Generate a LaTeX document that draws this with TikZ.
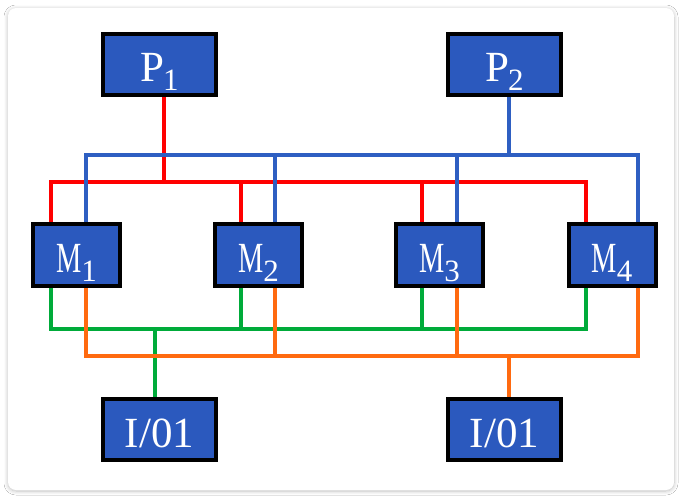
\documentclass[tikz,border=0pt]{standalone}
\usepackage{fontspec}
\setmainfont{Liberation Serif}
\newfontfamily\condfont[FakeStretch=0.66]{Liberation Serif}
\usetikzlibrary{backgrounds,shadows.blur}
\definecolor{boxblue}{HTML}{2B59BE}
\definecolor{lred}{HTML}{FF0000}
\definecolor{lblue}{HTML}{2E5FC2}
\definecolor{lgreen}{HTML}{00AB3A}
\definecolor{lorange}{HTML}{FF6A10}
\tikzset{
  unitbox/.style={draw=black, line width=4pt, fill=boxblue, text=white, inner sep=0pt,
    text height=35pt, text depth=0pt, font=\fontsize{43}{43}\selectfont},
  pbox/.style={unitbox, minimum width=113pt, minimum height=61pt},
  mbox/.style={unitbox, minimum width=87pt, minimum height=62pt},
  wire/.style={line width=4pt, line join=miter, line cap=butt},
}
\newcommand{\sub}[1]{\raisebox{-9pt}{\smash{\fontsize{31}{31}\selectfont #1}}}
\newcommand{\condM}{{\condfont M}}
\begin{document}
\begin{tikzpicture}[x=1pt,y=-1pt]
\useasboundingbox (0,0) rectangle (682,498);

\node[pbox] (P1) at (159.5,64) {P\kern-1pt\sub{1}};
\node[pbox] (P2) at (504.5,64) {P\kern-1pt\sub{2}};
\node[mbox] (M1) at (76.5,255) {\condM\sub{1}};
\node[mbox] (M2) at (258.5,255) {\condM\sub{2}};
\node[mbox] (M3) at (439.5,255) {\condM\sub{3}};
\node[mbox] (M4) at (612,255) {\condM\sub{4}};
\node[pbox] (IO1) at (159.5,429.5) {I/01};
\node[pbox] (IO2) at (504.5,429.5) {I/01};

\begin{scope}[on background layer]
\fill[white] (0,0) rectangle (682,498);
\fill[white, rounded corners=8pt, blur shadow={shadow blur steps=8, shadow xshift=0pt, shadow yshift=-1pt, shadow blur radius=4pt, shadow opacity=25}] (8,8) rectangle (674,490);
% bus levels
\coordinate (bb) at (0,155);
\coordinate (rb) at (0,181.5);
\coordinate (gb) at (0,329);
\coordinate (ob) at (0,355.5);
% taps on memory modules
\coordinate (r1) at ([xshift=-25.5pt]M1.north);
\coordinate (b1) at ([xshift=9.5pt]M1.north);
\coordinate (r2) at ([xshift=-17.5pt]M2.north);
\coordinate (b2) at ([xshift=16.5pt]M2.north);
\coordinate (r3) at ([xshift=-17.5pt]M3.north);
\coordinate (b3) at ([xshift=17.5pt]M3.north);
\coordinate (r4) at ([xshift=-26pt]M4.north);
\coordinate (b4) at ([xshift=26pt]M4.north);
\coordinate (g1) at ([xshift=-25.5pt]M1.south);
\coordinate (o1) at ([xshift=9.5pt]M1.south);
\coordinate (g2) at ([xshift=-17.5pt]M2.south);
\coordinate (o2) at ([xshift=16.5pt]M2.south);
\coordinate (g3) at ([xshift=-17.5pt]M3.south);
\coordinate (o3) at ([xshift=17.5pt]M3.south);
\coordinate (g4) at ([xshift=-26pt]M4.south);
\coordinate (o4) at ([xshift=26pt]M4.south);
\coordinate (p1) at ([xshift=4.5pt]P1.south);
\coordinate (p2) at ([xshift=4.5pt]P2.south);
\coordinate (i1) at ([xshift=-4.5pt]IO1.north);
\coordinate (i2) at ([xshift=4pt]IO2.north);
% red bus (P1)
\draw[wire, lred] (r1) -- (r1 |- rb) -- (r4 |- rb) -- (r4);
\draw[wire, lred] (r2) -- (r2 |- rb);
\draw[wire, lred] (r3) -- (r3 |- rb);
\draw[wire, lred] (p1) -- (p1 |- rb);
% blue bus (P2)
\draw[wire, lblue] (b1) -- (b1 |- bb) -- (b4 |- bb) -- (b4);
\draw[wire, lblue] (b2) -- (b2 |- bb);
\draw[wire, lblue] (b3) -- (b3 |- bb);
\draw[wire, lblue] (p2) -- (p2 |- bb);
% green bus (I/O 1)
\draw[wire, lgreen] (g1) -- (g1 |- gb) -- (g4 |- gb) -- (g4);
\draw[wire, lgreen] (g2) -- (g2 |- gb);
\draw[wire, lgreen] (g3) -- (g3 |- gb);
\draw[wire, lgreen] (i1) -- (i1 |- gb);
% orange bus (I/O 2)
\draw[wire, lorange] (o1) -- (o1 |- ob) -- (o4 |- ob) -- (o4);
\draw[wire, lorange] (o2) -- (o2 |- ob);
\draw[wire, lorange] (o3) -- (o3 |- ob);
\draw[wire, lorange] (i2) -- (i2 |- ob);
\end{scope}
\end{tikzpicture}
\end{document}
